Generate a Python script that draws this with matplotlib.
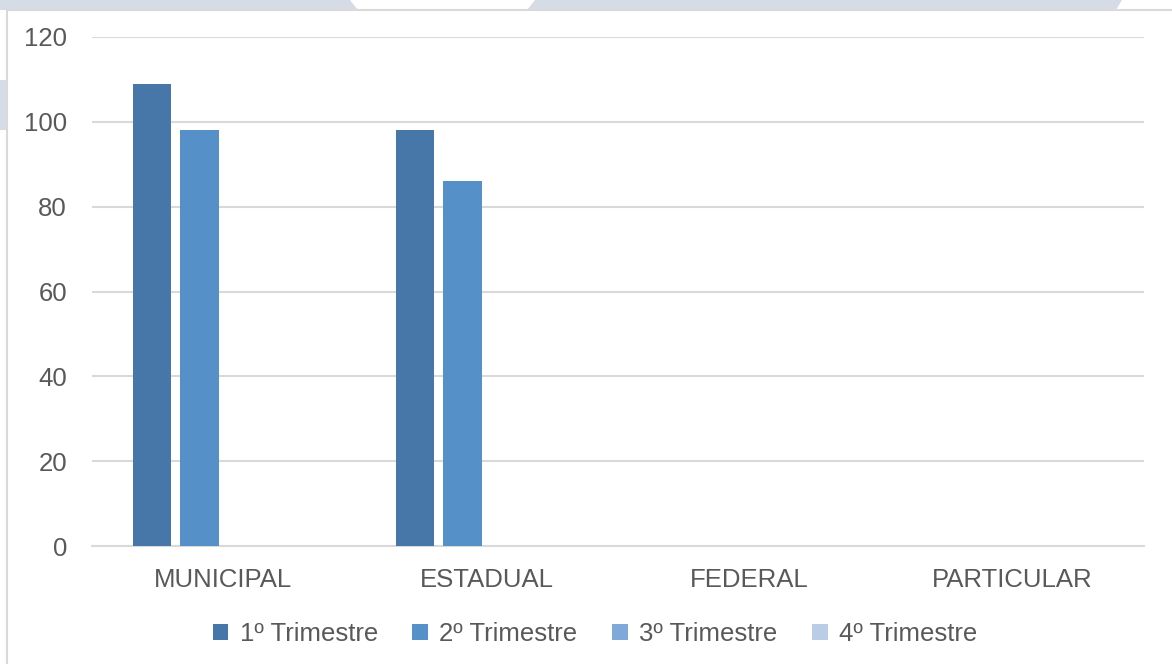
import matplotlib
matplotlib.use("Agg")
import matplotlib.pyplot as plt
from matplotlib.patches import Rectangle, Polygon
import numpy as np

categories = ["MUNICIPAL", "ESTADUAL", "FEDERAL", "PARTICULAR"]
series_names = ["1º Trimestre", "2º Trimestre", "3º Trimestre", "4º Trimestre"]
t1 = [109, 98, 0, 0]
t2 = [98, 86, 0, 0]
t3 = [0, 0, 0, 0]
t4 = [0, 0, 0, 0]
series_values = [t1, t2, t3, t4]
colors = ["#4677a8", "#5591c8", "#7fa9d9", "#b9cde6"]
yticks = [0, 20, 40, 60, 80, 100, 120]

plt.rcParams['font.family'] = ['Liberation Sans', 'DejaVu Sans']

W, H = 1172, 664
fig = plt.figure(figsize=(W / 100, H / 100), dpi=100)
fig.patch.set_facecolor("white")

def px(x, y):
    return (x / W, 1 - y / H)

wm = "#d6dce6"
fig.patches.append(Polygon([px(0, 0), px(350, 0), px(358, 10), px(0, 10)],
                           closed=True, transform=fig.transFigure,
                           facecolor=wm, edgecolor="none", zorder=-3))
fig.patches.append(Polygon([px(535, 0), px(1122, 0), px(1116, 10), px(527, 10)],
                           closed=True, transform=fig.transFigure,
                           facecolor=wm, edgecolor="none", zorder=-3))
fig.patches.append(Rectangle(px(0, 130), 7 / W, 50 / H, transform=fig.transFigure,
                             facecolor=wm, edgecolor="none", zorder=-3))
fig.patches.append(Rectangle(px(7, 670), 1180 / W, 660 / H, transform=fig.transFigure,
                             facecolor="white", edgecolor="#d9d9d9", linewidth=1.5,
                             zorder=-2))

left, right = 92 / W, 1144 / W
bottom, top = 1 - 546 / H, 1 - 37 / H
ax = fig.add_axes([left, bottom, right - left, top - bottom])
ax.set_facecolor("none")

x = np.arange(len(categories))
bw = 0.1445
step = 0.1825
for i, (name, vals) in enumerate(zip(series_names, series_values)):
    ax.bar(x + (i - 1.5) * step, vals, width=bw, color=colors[i], label=name, zorder=3)

ax.set_xlim(-0.5, len(categories) - 0.5)
ax.set_ylim(0, 120)
ax.set_yticks(yticks)
ax.set_yticklabels([str(v) for v in yticks])
ax.set_xticks(x)
ax.set_xticklabels(categories)
ax.grid(axis="y", color="#d9d9d9", linewidth=1.5, zorder=0)
ax.set_axisbelow(True)
for s in ["top", "right", "left"]:
    ax.spines[s].set_visible(False)
ax.spines["bottom"].set_color("#d9d9d9")
ax.spines["bottom"].set_linewidth(1.5)
ax.tick_params(axis="both", length=0, labelsize=18.5, colors="#595959")
ax.tick_params(axis="y", pad=18)
ax.tick_params(axis="x", pad=16)

leg = fig.legend(loc="center", bbox_to_anchor=(595 / W, 1 - 634 / H), ncol=4,
                 frameon=False, fontsize=18.5, handlelength=0.6, handleheight=0.6,
                 handletextpad=0.45, columnspacing=1.35)
for t in leg.get_texts():
    t.set_color("#595959")

fig.savefig("out.png", dpi=100, facecolor="white")
